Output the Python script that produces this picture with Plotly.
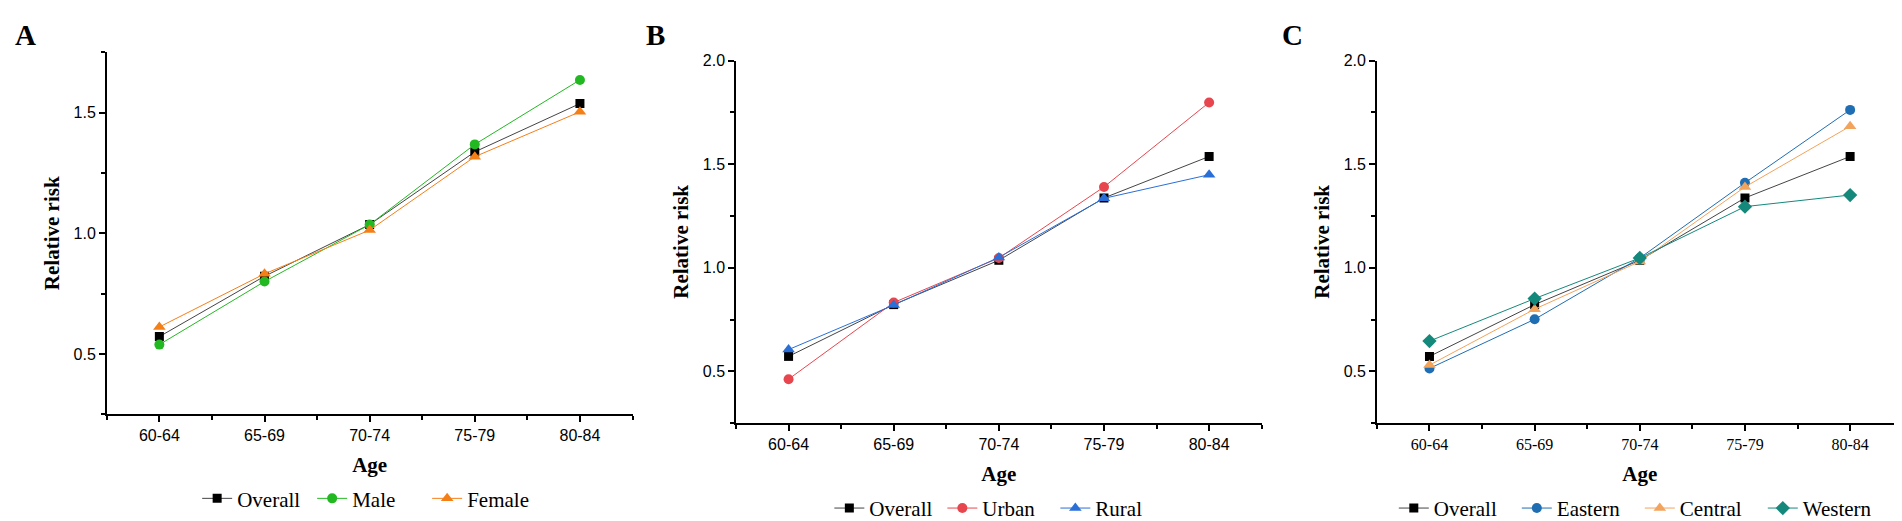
import plotly.graph_objects as go

# age groups on the x axis
ages = ["60-64", "65-69", "70-74", "75-79", "80-84"]

# panel A: by sex
overall = [0.572, 0.822, 1.036, 1.337, 1.537]
male = [0.539, 0.800, 1.036, 1.368, 1.635]
female = [0.612, 0.832, 1.013, 1.317, 1.503]

# panel B: urban / rural
urban = [0.462, 0.832, 1.047, 1.390, 1.798]
rural = [0.605, 0.820, 1.050, 1.335, 1.449]

# panel C: by region
eastern = [0.514, 0.751, 1.047, 1.410, 1.762]
central = [0.530, 0.800, 1.030, 1.390, 1.683]
western = [0.646, 0.851, 1.047, 1.295, 1.351]

W, H = 1902, 521
xpos = list(range(len(ages)))

SERIF = "Liberation Serif, Times New Roman, serif"
SANS = "Liberation Sans, Arial, sans-serif"

fig = go.Figure()


def add_line(y, name, color, symbol, size, n, line_color=None):
    fig.add_trace(go.Scatter(
        x=xpos, y=y, name=name, mode="lines+markers",
        line=dict(color=line_color or color, width=1),
        marker=dict(symbol=symbol, size=size, color=color),
        xaxis="x" if n == 1 else "x%d" % n,
        yaxis="y" if n == 1 else "y%d" % n,
        legend="legend" if n == 1 else "legend%d" % n,
    ))


# A
add_line(overall, "Overall", "#000000", "square", 9, 1, "#444444")
add_line(male, "Male", "#22b822", "circle", 10, 1)
add_line(female, "Female", "#f57f17", "triangle-up", 11, 1)
# B
add_line(overall, "Overall", "#000000", "square", 9, 2, "#444444")
add_line(urban, "Urban", "#e8464e", "circle", 10, 2)
add_line(rural, "Rural", "#2a6fd8", "triangle-up", 11, 2)
# C
add_line(overall, "Overall", "#000000", "square", 9, 3, "#444444")
add_line(eastern, "Eastern", "#1f6db2", "circle", 10, 3)
add_line(central, "Central", "#f2a35c", "triangle-up", 11, 3)
add_line(western, "Western", "#14897b", "diamond", 11, 3)

# pixel boxes of each plot area (left, right, top, bottom)
boxes = [(98.8, 624.5, 37.3, 411), (728, 1253.7, 46, 420), (1368.9, 1894.7, 46, 420)]
yranges = [[0.25, 1.75], [0.25, 2.0], [0.25, 2.0]]
xtick_fonts = [SANS, SANS, SERIF]
entry_w = [70, 68, 78]

layout = dict(
    width=W, height=H, margin=dict(l=0, r=0, t=0, b=0),
    paper_bgcolor="white", plot_bgcolor="white",
    showlegend=True,
)

for i, (l, r, t, b) in enumerate(boxes):
    n = "" if i == 0 else str(i + 1)
    layout["xaxis" + n] = dict(
        domain=[l / W, r / W], anchor="y" + n,
        range=[-0.5, 4.5], tickvals=xpos, ticktext=ages,
        showline=True, linecolor="black", linewidth=1.5,
        ticks="outside", ticklen=6, tickcolor="black", tickwidth=1.5,
        minor=dict(tickvals=[-0.5, 0.5, 1.5, 2.5, 3.5, 4.5], ticks="outside",
                   ticklen=4, tickcolor="black", tickwidth=1.5),
        showgrid=False, zeroline=False,
        tickfont=dict(family=xtick_fonts[i], size=16, color="black"),
        title=dict(text="<b>Age</b>", standoff=14,
                   font=dict(family=SERIF, size=21, color="black")),
    )
    layout["yaxis" + n] = dict(
        domain=[1 - b / H, 1 - t / H], anchor="x" + n,
        range=yranges[i], tick0=0.5, dtick=0.5, tickformat=".1f",
        showline=True, linecolor="black", linewidth=1.5,
        ticks="outside", ticklen=6, tickcolor="black", tickwidth=1.5,
        minor=dict(tick0=0.25, dtick=0.25, ticks="outside", ticklen=4,
                   tickcolor="black", tickwidth=1.5),
        showgrid=False, zeroline=False,
        tickfont=dict(family=SANS, size=16, color="black"),
        title=dict(text="<b>Relative risk</b>", standoff=8,
                   font=dict(family=SERIF, size=21, color="black")),
    )
    legy = 1 - (498 if i == 0 else 508) / H
    layout["legend" + n] = dict(
        orientation="h", x=(l + r) / 2 / W, xanchor="center",
        y=legy, yanchor="middle", bgcolor="rgba(0,0,0,0)",
        font=dict(family=SERIF, size=21, color="black"),
        itemwidth=30, tracegroupgap=0, entrywidth=entry_w[i],
    )

fig.update_layout(**layout)

# panel letters
for letter, x in zip(["A", "B", "C"], [5, 636, 1272]):
    fig.add_annotation(
        text="<b>%s</b>" % letter, x=x / W, y=1 - 20 / H, xref="paper", yref="paper",
        xanchor="left", yanchor="middle", showarrow=False,
        font=dict(family=SERIF, size=29, color="black"),
    )

fig.write_html("out.html")
